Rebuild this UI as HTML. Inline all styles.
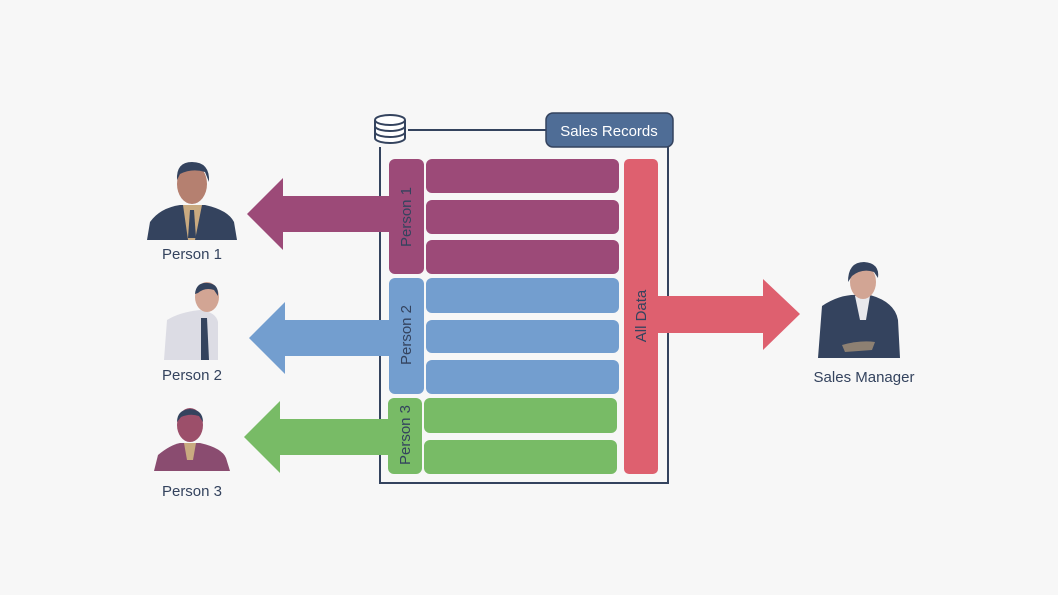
<!DOCTYPE html>
<html><head><meta charset="utf-8"><style>
html,body{margin:0;padding:0;background:#f7f7f7;}
svg{display:block;font-family:"Liberation Sans",sans-serif;}
</style></head><body>
<svg width="1058" height="595" viewBox="0 0 1058 595">
<rect width="1058" height="595" fill="#f7f7f7"/>
<path d="M380 147 V483 H668 V147" fill="none" stroke="#34435e" stroke-width="2"/>
<line x1="408" y1="130" x2="548" y2="130" stroke="#34435e" stroke-width="2"/>
<rect x="546" y="113" width="127" height="34" rx="7" fill="#4f6d96" stroke="#34435e" stroke-width="1.5"/>
<text x="609" y="136" font-size="15" fill="#fff" text-anchor="middle">Sales Records</text>
<g fill="#fff" stroke="#34435e" stroke-width="2">
<path d="M375 120 v18 a15 5 0 0 0 30 0 v-18"/>
<ellipse cx="390" cy="120" rx="15" ry="5"/>
<path d="M375 126 a15 5 0 0 0 30 0 M375 132 a15 5 0 0 0 30 0" fill="none"/>
</g>
<polygon points="389,196 283,196 283,178 247,214 283,250 283,232 389,232" fill="#9c4a78"/>
<polygon points="389,320 285,320 285,302 249,338 285,374 285,356 389,356" fill="#739ecf"/>
<polygon points="389,419 280,419 280,401 244,437 280,473 280,455 389,455" fill="#78bb66"/>
<polygon points="658,296 763,296 763,279 800,314 763,350 763,333 658,333" fill="#de606f"/>
<g fill="#9c4a78">
<rect x="389" y="159" width="35" height="115" rx="6"/>
<rect x="426" y="159" width="193" height="34" rx="6"/>
<rect x="426" y="200" width="193" height="34" rx="6"/>
<rect x="426" y="240" width="193" height="34" rx="6"/>
</g>
<g fill="#739ecf">
<rect x="389" y="278" width="35" height="116" rx="6"/>
<rect x="426" y="278" width="193" height="35" rx="6"/>
<rect x="426" y="320" width="193" height="33" rx="6"/>
<rect x="426" y="360" width="193" height="34" rx="6"/>
</g>
<g fill="#78bb66">
<rect x="388" y="398" width="34" height="76" rx="6"/>
<rect x="424" y="398" width="193" height="35" rx="6"/>
<rect x="424" y="440" width="193" height="34" rx="6"/>
</g>
<rect x="624" y="159" width="34" height="315" rx="5" fill="#de606f"/>
<g font-size="15" fill="#34435e" text-anchor="middle">
<text transform="translate(411,217) rotate(-90)">Person 1</text>
<text transform="translate(411,335) rotate(-90)">Person 2</text>
<text transform="translate(410,435) rotate(-90)">Person 3</text>
<text transform="translate(646,316) rotate(-90)">All Data</text>
</g>
<path d="M147 240 L150 222 Q160 208 180 205 L205 205 Q228 210 234 222 L237 240 Z" fill="#34435e"/>
<path d="M183 205 L202 205 L195 240 L188 240 Z" fill="#c9aa80"/>
<path d="M190 210 L194 210 L196 238 L188 238 Z" fill="#34435e"/>
<ellipse cx="192" cy="184" rx="15" ry="20" fill="#b58070"/>
<path d="M177 180 Q176 162 192 162 Q210 162 209 182 L205 172 Q192 168 180 174 Z" fill="#34435e"/>
<path d="M164 360 L167 320 Q180 312 200 310 Q216 312 218 322 L218 360 Z" fill="#dcdce4"/>
<path d="M201 318 L207 318 L209 360 L201 360 Z" fill="#34435e"/>
<ellipse cx="207" cy="297" rx="12" ry="15" fill="#d2a594"/>
<path d="M195 294 Q196 282 208 283 Q219 284 218 296 L214 290 Q205 287 198 293 Z" fill="#34435e"/>
<path d="M154 471 L158 455 Q170 445 180 443 L200 443 Q222 448 226 458 L230 471 Z" fill="#8a4c70"/>
<path d="M184 443 L196 443 L193 460 L187 460 Z" fill="#c9aa80"/>
<ellipse cx="190" cy="425" rx="13" ry="17" fill="#9c4f6a"/>
<path d="M177 422 Q177 410 190 409 Q203 410 203 422 L199 416 Q190 413 181 417 Z" fill="#34435e"/>
<path d="M818 358 L822 306 Q840 294 858 295 L870 295 Q895 302 898 320 L900 358 Z" fill="#34435e"/>
<path d="M855 296 L870 296 L866 320 L860 320 Z" fill="#e8e8ec"/>
<path d="M842 345 Q860 340 875 342 L872 350 L845 352 Z" fill="#c9aa80" opacity="0.6"/>
<ellipse cx="863" cy="282" rx="13" ry="17" fill="#d2a594"/>
<path d="M848 282 Q848 262 864 262 Q880 263 878 278 L874 272 Q862 268 852 276 Z" fill="#34435e"/>
<g font-size="15" fill="#34435e" text-anchor="middle">
<text x="192" y="259">Person 1</text>
<text x="192" y="380">Person 2</text>
<text x="192" y="496">Person 3</text>
<text x="864" y="382">Sales Manager</text>
</g>
</svg>
</body></html>
